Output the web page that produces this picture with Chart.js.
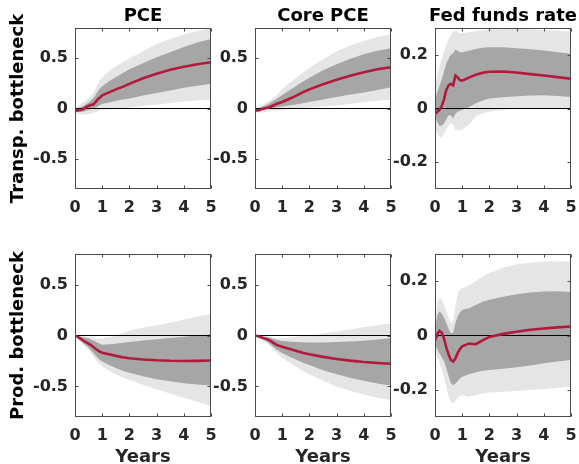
<!DOCTYPE html>
<html>
<head>
<meta charset="utf-8">
<script src="https://cdn.jsdelivr.net/npm/chart.js@4/dist/chart.umd.min.js"></script>
<style>
  html, body { margin: 0; padding: 0; background: #fff; width: 579px; height: 464px; overflow: hidden; }
  canvas { position: absolute; }
</style>
</head>
<body>
<canvas id="p0"></canvas><canvas id="p1"></canvas><canvas id="p2"></canvas>
<canvas id="p3"></canvas><canvas id="p4"></canvas><canvas id="p5"></canvas>
<script>
// Horizon in years (monthly over the first year, coarser afterwards)
const years = [0, 0.083, 0.167, 0.25, 0.333, 0.417, 0.5, 0.583, 0.667, 0.75, 0.833, 0.917, 1,
               1.25, 1.5, 1.75, 2, 2.5, 3, 3.5, 4, 4.5, 5];
const xTicks = [0, 1, 2, 3, 4, 5];
const yTicksInflation = [-0.5, 0, 0.5];
const yTicksRate = [-0.2, 0, 0.2];
const columnTitles = ['PCE', 'Core PCE', 'Fed funds rate'];
const rowTitles = ['Transp. bottleneck', 'Prod. bottleneck'];
const xTitle = 'Years';

// Transportation bottleneck shock: PCE
const pceTrMed  = [-0.02,-0.02,-0.015,-0.01,0.0,0.015,0.025,0.035,0.04,0.06,0.09,0.11,0.13,0.16,0.19,0.215,0.245,0.3,0.345,0.385,0.415,0.44,0.46];
const pceTrHi68 = [-0.005,0.0,0.01,0.02,0.03,0.045,0.06,0.08,0.1,0.13,0.17,0.2,0.22,0.27,0.31,0.35,0.39,0.45,0.51,0.56,0.61,0.655,0.69];
const pceTrLo68 = [-0.03,-0.035,-0.035,-0.035,-0.03,-0.02,-0.015,-0.005,0.0,0.01,0.02,0.035,0.045,0.06,0.075,0.09,0.1,0.13,0.155,0.18,0.205,0.225,0.245];
const pceTrHi90 = [0.01,0.02,0.035,0.05,0.065,0.08,0.1,0.125,0.155,0.19,0.24,0.28,0.31,0.37,0.42,0.46,0.5,0.57,0.64,0.69,0.735,0.77,0.8];
const pceTrLo90 = [-0.04,-0.05,-0.055,-0.06,-0.06,-0.06,-0.055,-0.05,-0.045,-0.035,-0.03,-0.02,-0.015,-0.01,-0.005,0.0,0.01,0.025,0.04,0.055,0.07,0.08,0.09];

// Transportation bottleneck shock: core PCE
const corTrMed  = [-0.02,-0.02,-0.015,-0.005,0.0,0.005,0.01,0.02,0.03,0.04,0.05,0.058,0.065,0.095,0.125,0.16,0.19,0.24,0.285,0.325,0.36,0.39,0.41];
const corTrHi68 = [-0.01,-0.005,0.005,0.015,0.025,0.035,0.045,0.06,0.075,0.09,0.105,0.12,0.135,0.18,0.22,0.265,0.305,0.38,0.44,0.495,0.54,0.575,0.6];
const corTrLo68 = [-0.025,-0.025,-0.02,-0.015,-0.01,-0.008,-0.005,0.0,0.005,0.008,0.012,0.016,0.02,0.03,0.04,0.052,0.065,0.09,0.115,0.14,0.16,0.185,0.21];
const corTrHi90 = [0.0,0.005,0.015,0.03,0.045,0.06,0.075,0.09,0.105,0.125,0.145,0.17,0.195,0.25,0.3,0.355,0.405,0.49,0.57,0.625,0.67,0.71,0.74];
const corTrLo90 = [-0.035,-0.04,-0.04,-0.04,-0.035,-0.035,-0.03,-0.028,-0.025,-0.022,-0.02,-0.017,-0.015,-0.008,-0.002,0.005,0.01,0.02,0.03,0.045,0.065,0.078,0.09];

// Transportation bottleneck shock: fed funds rate
const ffrTrMed  = [-0.02,-0.013,-0.005,0.01,0.035,0.07,0.086,0.092,0.086,0.123,0.116,0.106,0.104,0.115,0.126,0.133,0.137,0.138,0.134,0.128,0.123,0.117,0.111];
const ffrTrHi68 = [0.03,0.06,0.085,0.11,0.14,0.168,0.185,0.2,0.205,0.22,0.215,0.21,0.21,0.215,0.222,0.226,0.228,0.228,0.225,0.221,0.216,0.21,0.204];
const ffrTrLo68 = [-0.03,-0.05,-0.065,-0.063,-0.055,-0.04,-0.025,-0.025,-0.037,-0.02,-0.012,-0.008,-0.006,0.006,0.02,0.03,0.037,0.042,0.046,0.048,0.049,0.047,0.043];
const ffrTrHi90 = [0.08,0.12,0.155,0.185,0.215,0.235,0.26,0.275,0.285,0.29,0.285,0.28,0.28,0.284,0.288,0.291,0.294,0.296,0.296,0.295,0.293,0.29,0.286];
const ffrTrLo90 = [-0.068,-0.095,-0.105,-0.107,-0.095,-0.075,-0.062,-0.055,-0.06,-0.08,-0.082,-0.08,-0.078,-0.06,-0.03,-0.018,-0.012,-0.005,0.0,0.0,0.0,0.0,0.0];

// Production bottleneck shock: PCE
const pcePrMed  = [0.0,-0.01,-0.025,-0.04,-0.055,-0.068,-0.08,-0.095,-0.11,-0.13,-0.145,-0.16,-0.17,-0.185,-0.2,-0.213,-0.223,-0.235,-0.243,-0.248,-0.25,-0.249,-0.246];
const pcePrHi68 = [0.0,-0.005,-0.01,-0.015,-0.02,-0.025,-0.03,-0.04,-0.05,-0.06,-0.07,-0.08,-0.09,-0.085,-0.08,-0.072,-0.065,-0.05,-0.037,-0.024,-0.012,0.0,0.012];
const pcePrLo68 = [0.0,-0.02,-0.04,-0.06,-0.08,-0.1,-0.12,-0.145,-0.17,-0.195,-0.22,-0.24,-0.255,-0.29,-0.32,-0.345,-0.365,-0.4,-0.43,-0.45,-0.468,-0.48,-0.49];
const pcePrHi90 = [0.0,0.0,-0.002,-0.005,-0.008,-0.01,-0.015,-0.018,-0.022,-0.026,-0.03,-0.03,-0.028,-0.015,0.0,0.025,0.05,0.075,0.1,0.125,0.155,0.185,0.215];
const pcePrLo90 = [0.0,-0.03,-0.055,-0.08,-0.1,-0.12,-0.145,-0.17,-0.2,-0.23,-0.26,-0.285,-0.305,-0.345,-0.38,-0.41,-0.435,-0.485,-0.53,-0.57,-0.61,-0.65,-0.69];

// Production bottleneck shock: core PCE
const corPrMed  = [0.0,-0.005,-0.012,-0.02,-0.028,-0.035,-0.042,-0.055,-0.07,-0.085,-0.095,-0.103,-0.11,-0.13,-0.15,-0.17,-0.185,-0.21,-0.23,-0.247,-0.26,-0.27,-0.278];
const corPrHi68 = [0.0,-0.002,-0.005,-0.008,-0.012,-0.016,-0.02,-0.026,-0.033,-0.04,-0.045,-0.05,-0.055,-0.06,-0.065,-0.067,-0.068,-0.068,-0.065,-0.06,-0.052,-0.04,-0.028];
const corPrLo68 = [0.0,-0.01,-0.02,-0.03,-0.042,-0.055,-0.07,-0.09,-0.11,-0.13,-0.145,-0.16,-0.172,-0.205,-0.235,-0.265,-0.29,-0.34,-0.38,-0.415,-0.445,-0.47,-0.49];
const corPrHi90 = [0.0,0.0,-0.002,-0.004,-0.006,-0.008,-0.01,-0.014,-0.018,-0.022,-0.025,-0.026,-0.026,-0.02,-0.012,-0.005,0.002,0.02,0.04,0.06,0.08,0.1,0.12];
const corPrLo90 = [0.0,-0.015,-0.03,-0.045,-0.06,-0.075,-0.09,-0.11,-0.135,-0.16,-0.18,-0.2,-0.22,-0.265,-0.305,-0.345,-0.38,-0.445,-0.5,-0.545,-0.58,-0.61,-0.635];

// Production bottleneck shock: fed funds rate
const ffrPrMed  = [-0.018,0.005,0.017,0.01,-0.012,-0.045,-0.07,-0.09,-0.096,-0.085,-0.065,-0.05,-0.04,-0.03,-0.032,-0.018,-0.005,0.006,0.014,0.021,0.026,0.03,0.033];
const ffrPrHi68 = [0.02,0.075,0.089,0.08,0.065,0.045,0.025,0.008,0.01,0.045,0.07,0.085,0.095,0.1,0.112,0.124,0.132,0.143,0.152,0.158,0.162,0.163,0.16];
const ffrPrLo68 = [-0.035,-0.05,-0.065,-0.08,-0.095,-0.12,-0.15,-0.175,-0.183,-0.177,-0.168,-0.158,-0.152,-0.143,-0.135,-0.13,-0.127,-0.122,-0.117,-0.11,-0.102,-0.096,-0.09];
const ffrPrHi90 = [0.045,0.12,0.14,0.13,0.115,0.09,0.065,0.045,0.05,0.11,0.155,0.17,0.175,0.185,0.2,0.218,0.23,0.249,0.262,0.268,0.272,0.273,0.272];
const ffrPrLo90 = [-0.053,-0.08,-0.1,-0.125,-0.155,-0.19,-0.225,-0.245,-0.25,-0.24,-0.23,-0.222,-0.22,-0.225,-0.22,-0.213,-0.21,-0.207,-0.204,-0.2,-0.198,-0.193,-0.189];

const RED = '#b3193d';
const DARK = '#a6a6a6';
const LIGHT = '#e5e5e5';
const FRAME = '#4a4a4a';
const TEXT = '#262626';
const FONT_FAMILY = '"DejaVu Sans", "Liberation Sans", sans-serif';

Chart.defaults.font.family = FONT_FAMILY;

// Canvas boxes for the 2x3 grid (transparent, allowed to overlap);
// the plot area is set by yw (left), padRight, padTop and xh (bottom)
const cols = [
  { left: 0,   width: 216, yw: 75, padRight: 5 },
  { left: 200, width: 196, yw: 55, padRight: 5 },
  { left: 385, width: 194, yw: 50, padRight: 8 }
];
const rows = [
  { top: 0,   height: 230, padTop: 28, xh: 41 },
  { top: 230, height: 234, padTop: 24, xh: 47 }
];

const panels = [
  { r: 0, c: 0, med: pceTrMed, hi68: pceTrHi68, lo68: pceTrLo68, hi90: pceTrHi90, lo90: pceTrLo90, lim: 0.8, yt: yTicksInflation },
  { r: 0, c: 1, med: corTrMed, hi68: corTrHi68, lo68: corTrLo68, hi90: corTrHi90, lo90: corTrLo90, lim: 0.8, yt: yTicksInflation },
  { r: 0, c: 2, med: ffrTrMed, hi68: ffrTrHi68, lo68: ffrTrLo68, hi90: ffrTrHi90, lo90: ffrTrLo90, lim: 0.3, yt: yTicksRate },
  { r: 1, c: 0, med: pcePrMed, hi68: pcePrHi68, lo68: pcePrLo68, hi90: pcePrHi90, lo90: pcePrLo90, lim: 0.8, yt: yTicksInflation },
  { r: 1, c: 1, med: corPrMed, hi68: corPrHi68, lo68: corPrLo68, hi90: corPrHi90, lo90: corPrLo90, lim: 0.8, yt: yTicksInflation },
  { r: 1, c: 2, med: ffrPrMed, hi68: ffrPrHi68, lo68: ffrPrLo68, hi90: ffrPrHi90, lo90: ffrPrLo90, lim: 0.3, yt: yTicksRate }
];

const pts = arr => years.map((x, i) => ({ x: x, y: arr[i] }));
const hidden = { borderWidth: 0, borderColor: 'rgba(0,0,0,0)', pointRadius: 0 };

// Box around the axes with inward tick marks, plus titles and axis labels
const framePlugin = {
  id: 'frame',
  afterDatasetsDraw(chart, args, opts) {
    const { ctx, chartArea: a, scales } = chart;
    const L = Math.round(a.left) + 0.5, R = Math.round(a.right) - 0.5;
    const T = Math.round(a.top) + 0.5, B = Math.round(a.bottom) - 0.5;
    ctx.save();
    ctx.strokeStyle = FRAME;
    ctx.lineWidth = 1;
    ctx.strokeRect(L, T, R - L, B - T);
    const tl = 3;
    ctx.beginPath();
    xTicks.forEach(v => {
      const px = Math.round(scales.x.getPixelForValue(v)) + 0.5;
      ctx.moveTo(px, B); ctx.lineTo(px, B - tl);
      ctx.moveTo(px, T); ctx.lineTo(px, T + tl);
    });
    opts.yt.forEach(v => {
      const py = Math.round(scales.y.getPixelForValue(v)) + 0.5;
      ctx.moveTo(L, py); ctx.lineTo(L + tl, py);
      ctx.moveTo(R, py); ctx.lineTo(R - tl, py);
    });
    ctx.stroke();
    ctx.restore();
  },
  afterDraw(chart, args, opts) {
    const { ctx, chartArea: a } = chart;
    const cx = (a.left + a.right) / 2;
    ctx.save();
    ctx.font = 'bold 18px ' + FONT_FAMILY;
    ctx.textAlign = 'center';
    ctx.textBaseline = 'alphabetic';
    if (opts.title) {
      ctx.fillStyle = '#000';
      ctx.fillText(opts.title, cx, 20.5);
    }
    if (opts.xLabel) {
      ctx.fillStyle = TEXT;
      ctx.fillText(opts.xLabel, cx, chart.height - 2.5);
    }
    if (opts.yLabel) {
      ctx.fillStyle = '#000';
      ctx.translate(23, (a.top + a.bottom) / 2);
      ctx.rotate(-Math.PI / 2);
      ctx.fillText(opts.yLabel, 0, 0);
    }
    ctx.restore();
  }
};

panels.forEach((p, i) => {
  const col = cols[p.c], row = rows[p.r];
  const cv = document.getElementById('p' + i);
  cv.style.left = col.left + 'px';
  cv.style.top = row.top + 'px';
  cv.width = col.width; cv.height = row.height;
  cv.style.width = col.width + 'px'; cv.style.height = row.height + 'px';

  new Chart(cv, {
    type: 'line',
    data: {
      datasets: [
        { data: pts(p.med), borderColor: RED, borderWidth: 2.6, pointRadius: 0, fill: false },
        { data: [{ x: 0, y: 0 }, { x: 5, y: 0 }], borderColor: '#000', borderWidth: 1, pointRadius: 0, fill: false },
        Object.assign({ data: pts(p.hi68), fill: '+1', backgroundColor: DARK }, hidden),
        Object.assign({ data: pts(p.lo68), fill: false }, hidden),
        Object.assign({ data: pts(p.hi90), fill: '+1', backgroundColor: LIGHT }, hidden),
        Object.assign({ data: pts(p.lo90), fill: false }, hidden)
      ]
    },
    options: {
      responsive: false,
      animation: false,
      devicePixelRatio: 1,
      events: [],
      layout: { padding: { top: row.padTop, right: col.padRight, left: 0, bottom: 0 } },
      elements: { line: { tension: 0 }, point: { radius: 0 } },
      plugins: {
        legend: { display: false },
        tooltip: { enabled: false },
        frame: {
          yt: p.yt,
          title: p.r === 0 ? columnTitles[p.c] : null,
          xLabel: p.r === 1 ? xTitle : null,
          yLabel: p.c === 0 ? rowTitles[p.r] : null
        }
      },
      scales: {
        x: {
          type: 'linear', min: 0, max: 5,
          afterBuildTicks: s => { s.ticks = xTicks.map(v => ({ value: v })); },
          afterFit: s => { s.height = row.xh; s.paddingLeft = 0; s.paddingRight = 0; },
          ticks: { color: TEXT, font: { size: 16, weight: 'bold' }, padding: 9, maxRotation: 0, autoSkip: false,
                   callback: v => String(v) },
          grid: { display: false, drawTicks: false },
          border: { display: false }
        },
        y: {
          type: 'linear', min: -p.lim, max: p.lim,
          afterBuildTicks: s => { s.ticks = p.yt.map(v => ({ value: v })); },
          afterFit: s => { s.width = col.yw; s.paddingTop = 0; s.paddingBottom = 0; },
          ticks: { color: TEXT, font: { size: 16, weight: 'bold' }, padding: 7, autoSkip: false,
                   callback: v => String(v) },
          grid: { display: false, drawTicks: false },
          border: { display: false }
        }
      }
    },
    plugins: [framePlugin]
  });
});
</script>
</body>
</html>
